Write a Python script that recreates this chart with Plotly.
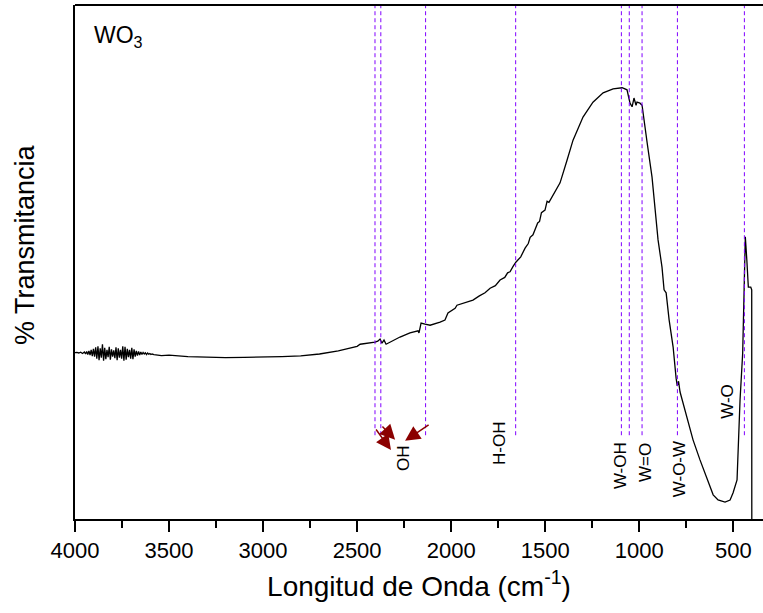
import plotly.graph_objects as go

# ---- spectrum data (wavenumber cm-1, % transmittance, arbitrary scale 0-100) ----
wn_noise = [4000, 3990, 3980, 3970, 3960, 3950, 3944, 3938, 3932, 3926, 3920, 3914, 3908, 3902,
            3896, 3890, 3884, 3878, 3872, 3866, 3860, 3854, 3848, 3842, 3836, 3830, 3824, 3818,
            3812, 3806, 3800, 3794, 3788, 3782, 3776, 3770, 3764, 3758, 3752, 3746, 3740, 3734,
            3728, 3722, 3716, 3710, 3704, 3698, 3692, 3686, 3680, 3674, 3668, 3662, 3656, 3650,
            3644, 3638, 3632, 3626, 3620, 3614, 3608, 3602, 3596, 3590, 3580, 3570, 3560, 3550, 3540]
t_noise = [32.35, 32.4, 32.3, 32.45, 32.2, 32.5, 32.1, 32.6, 32.0, 32.7, 31.9, 32.9, 31.7, 33.1,
           31.6, 33.4, 31.2, 33.6, 30.9, 33.2, 31.4, 34.0, 30.8, 33.3, 31.1, 32.9, 31.5, 33.5,
           31.0, 33.0, 31.6, 32.8, 31.3, 33.4, 30.9, 33.2, 31.4, 32.9, 31.2, 33.6, 30.8, 33.5,
           31.0, 33.1, 31.5, 32.9, 31.2, 33.3, 31.1, 33.0, 31.6, 32.7, 31.8, 32.6, 31.9, 32.5,
           32.0, 32.4, 32.1, 32.35, 32.0, 32.3, 32.05, 32.2, 32.0, 32.1, 32.0, 31.9, 31.9, 31.85, 31.8]

wn_mid = [3500, 3400, 3300, 3200, 3100, 3000, 2900, 2800, 2700, 2600, 2550, 2500, 2484, 2440,
          2405, 2390, 2378, 2368, 2357, 2346, 2325, 2272, 2219, 2176, 2171, 2160, 2139, 2112,
          2059, 2033, 2017, 1979, 1969, 1937, 1884, 1850, 1820, 1793, 1765, 1740, 1715, 1700,
          1687, 1670, 1655, 1630, 1607, 1590, 1580, 1565, 1554, 1540, 1530, 1520, 1501, 1490,
          1480, 1464, 1445, 1421]
t_mid = [31.9, 31.6, 31.45, 31.4, 31.45, 31.5, 31.6, 31.75, 32.1, 32.7, 33.1, 33.6, 34.0, 34.2,
         34.4, 34.6, 35.0, 34.2, 34.8, 34.0, 34.4, 35.4, 36.2, 36.6, 36.2, 38.1, 37.9, 37.7,
         38.3, 38.7, 40.1, 41.0, 41.6, 42.0, 42.6, 43.4, 44.0, 44.9, 45.4, 46.5, 47.0, 47.9,
         48.1, 49.2, 50.0, 51.0, 52.7, 53.6, 54.8, 55.3, 56.2, 57.6, 57.9, 59.6, 60.1, 61.8,
         61.6, 62.6, 63.9, 65.4]

wn_end = [1384, 1352, 1299, 1246, 1192, 1139, 1091, 1065, 1049, 1038, 1028, 1017, 1012, 996,
          985, 980, 958, 932, 916, 900, 879, 868, 857, 841, 820, 814, 804, 798, 791, 783, 756,
          714, 677, 650, 623, 607, 581, 544, 517, 501, 480, 475, 464, 450, 441, 436, 428, 420,
          407, 402, 401.5]
t_end = [69.8, 73.7, 78.2, 81.1, 82.9, 83.7, 83.9, 83.5, 80.9, 80.2, 81.9, 80.5, 81.1, 80.9,
         80.5, 79.0, 73.2, 66.5, 60.1, 54.3, 49.0, 44.6, 44.0, 38.7, 33.5, 30.9, 27.4, 25.9,
         26.8, 24.7, 21.2, 15.4, 11.5, 8.9, 6.2, 4.7, 3.7, 3.3, 3.7, 5.1, 7.6, 14.0, 23.2,
         32.3, 48.4, 54.9, 50.4, 45.1, 45.1, 44.6, 0.0]

# band markers (cm-1)
band_positions = [2405, 2374, 2136, 1657, 1095, 1053, 985, 797, 441]
band_line_bottom = 16.3

# band labels
label_texts = ["OH", "H-OH", "W-OH", "W=O", "W-O-W", "W-O"]
label_x = [2250, 1740, 1102, 964, 788, 528]
label_y = [11.9, 14.6, 10.3, 10.9, 9.7, 22.8]

# OH arrows: (tail_x, tail_y, head_x, head_y)
arrow_tail_x = [2373, 2405, 2112]
arrow_tail_y = [18.3, 17.7, 18.5]
arrow_head_x = [2298, 2320, 2245]
arrow_head_y = [15.4, 13.4, 15.2]

x_ticks = [4000, 3500, 3000, 2500, 2000, 1500, 1000, 500]

assert len(wn_noise) == len(t_noise)
assert len(wn_mid) == len(t_mid)
assert len(wn_end) == len(t_end)

wn = wn_noise + wn_mid + wn_end
tr = t_noise + t_mid + t_end

FONT = "Liberation Sans, Arial, sans-serif"

fig = go.Figure()
fig.add_trace(go.Scatter(x=wn, y=tr, mode="lines",
                         line=dict(color="black", width=1.3), showlegend=False))

shapes = []
for b in band_positions:
    shapes.append(dict(type="line", xref="x", yref="y", x0=b, x1=b,
                       y0=band_line_bottom, y1=100,
                       line=dict(color="#8000FF", width=1, dash="4px,3px")))
# top frame line
shapes.append(dict(type="line", xref="paper", yref="paper", x0=0, x1=1, y0=1, y1=1,
                   line=dict(color="black", width=2)))

annotations = []
for t, x, y in zip(label_texts, label_x, label_y):
    annotations.append(dict(x=x, y=y, xref="x", yref="y", text=t, showarrow=False,
                            textangle=-90, font=dict(family=FONT, size=17, color="black")))
for tx, ty, hx, hy in zip(arrow_tail_x, arrow_tail_y, arrow_head_x, arrow_head_y):
    annotations.append(dict(x=hx, y=hy, ax=tx, ay=ty, xref="x", yref="y",
                            axref="x", ayref="y", text="", showarrow=True,
                            arrowhead=2, arrowsize=2.0, arrowwidth=1.5,
                            arrowcolor="#8B0000"))
annotations.append(dict(x=3910, y=97, xref="x", yref="y", text="WO<sub>3</sub>",
                        showarrow=False, xanchor="left", yanchor="top",
                        font=dict(family=FONT, size=23, color="black")))
annotations.append(dict(x=0, y=53.3, xref="paper", yref="y", xshift=-50,
                        text="% Transmitancia", showarrow=False, textangle=-90,
                        xanchor="center", yanchor="middle",
                        font=dict(family=FONT, size=27, color="black")))

fig.update_layout(
    width=763, height=613,
    margin=dict(l=75, r=0, t=5, b=94, autoexpand=False),
    paper_bgcolor="white", plot_bgcolor="white",
    shapes=shapes, annotations=annotations,
    xaxis=dict(range=[4000, 342], tickvals=x_ticks, ticktext=[str(v) for v in x_ticks],
               ticks="outside", ticklen=11, tickwidth=1.5, tickcolor="black",
               minor=dict(dtick=250, tick0=0, ticks="outside", ticklen=7, tickwidth=1.5,
                          tickcolor="black", showgrid=False),
               showline=True, linecolor="black", linewidth=2, showgrid=False, zeroline=False,
               tickfont=dict(family=FONT, size=22, color="black"),
               title=dict(text="Longitud de Onda (cm<sup>-1</sup>)", standoff=14,
                          font=dict(family=FONT, size=28, color="black"))),
    yaxis=dict(range=[0, 100], showticklabels=False, ticks="", showline=True,
               linecolor="black", linewidth=1.5, showgrid=False, zeroline=False),
)

fig.write_html("out.html", config={"displayModeBar": False},
               post_script="document.body.style.margin='0';document.body.style.overflow='hidden';")
